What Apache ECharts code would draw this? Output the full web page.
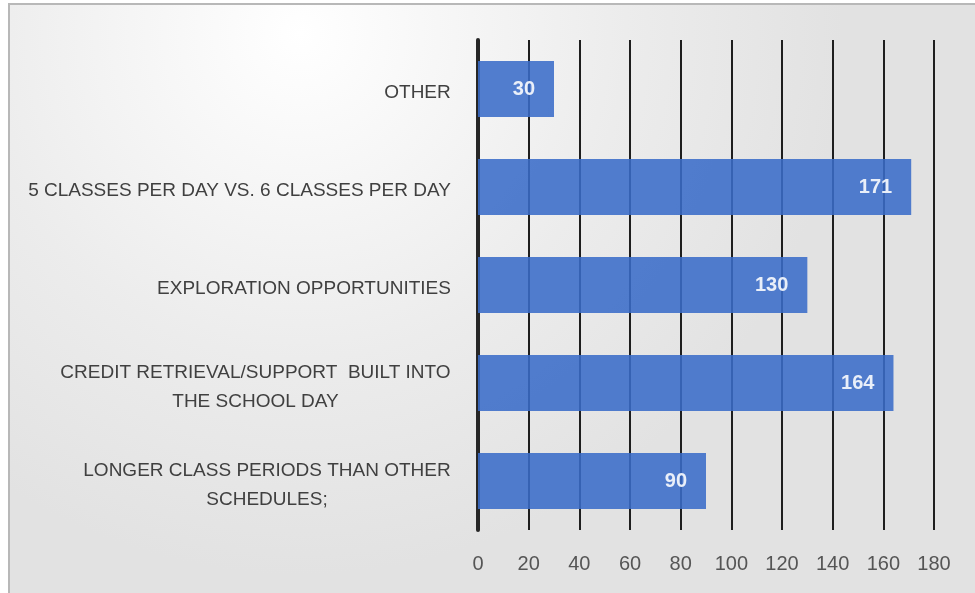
<!DOCTYPE html>
<html>
<head>
<meta charset="utf-8">
<script src="https://cdn.jsdelivr.net/npm/echarts@6/dist/echarts.min.js"></script>
<style>
html,body{margin:0;padding:0;background:#fff;}
#chart{width:975px;height:593px;}
</style>
</head>
<body>
<div id="chart"></div>
<script>
const categories = [
  'OTHER',
  '5 CLASSES PER DAY VS. 6 CLASSES PER DAY',
  'EXPLORATION OPPORTUNITIES',
  'CREDIT RETRIEVAL/SUPPORT  BUILT INTO\nTHE SCHOOL DAY',
  'LONGER CLASS PERIODS THAN OTHER\nSCHEDULES;'
];
const values = [30, 171, 130, 164, 90];
const xMin = 0, xMax = 180, xStep = 20;

const FONT = '"Liberation Sans", sans-serif';
const LABEL_SIZE = 19;

const cv = document.createElement('canvas').getContext('2d');
cv.font = LABEL_SIZE + 'px ' + FONT;
const rich = {};
categories.forEach((c, i) => {
  const w = Math.max(...c.split('\n').map(l => cv.measureText(l).width));
  rich['c' + i] = {width: Math.ceil(w) + 2, align: 'center', fontSize: LABEL_SIZE, fontFamily: FONT, color: '#404040', lineHeight: 29};
});

const chart = echarts.init(document.getElementById('chart'), null, {renderer: 'canvas'});
chart.setOption({
  animation: false,
  backgroundColor: '#ffffff',
  graphic: [{
    type: 'rect', z: -10, silent: true,
    shape: {x: 9, y: 4, width: 975, height: 600},
    style: {
      fill: {type: 'radial', x: 0.3, y: 0.05, r: 0.9, colorStops: [{offset: 0, color: '#ffffff'}, {offset: 0.6, color: '#ececec'}, {offset: 1, color: '#e2e2e2'}]},
      stroke: '#b8b8b8', lineWidth: 2
    }
  }],
  grid: {left: 478, right: 41, top: 40, bottom: 63, outerBoundsMode: 'none', containLabel: false},
  xAxis: {
    type: 'value', min: xMin, max: xMax, interval: xStep,
    axisLine: {show: false}, axisTick: {show: false},
    splitLine: {show: true, lineStyle: {color: '#1e1e1e', width: 2}},
    axisLabel: {margin: 24, fontSize: 20, fontFamily: FONT, color: '#555555'}
  },
  yAxis: {
    type: 'category', inverse: true, data: categories,
    axisLine: {show: true, lineStyle: {color: '#262626', width: 4}},
    axisTick: {show: false},
    splitLine: {show: false},
    axisLabel: {
      margin: 26,
      padding: [8, 0, 0, 0],
      formatter: (v, i) => v.split('\n').map(l => '{c' + i + '|' + l + '}').join('\n'),
      rich: rich
    }
  },
  series: [{
    type: 'bar', data: values, barWidth: '57%',
    itemStyle: {color: '#3a6cc8', opacity: 0.88},
    label: {show: true, position: 'insideRight', distance: 19, color: '#ffffff', fontWeight: 'bold', fontSize: 20, fontFamily: FONT}
  }]
});
</script>
</body>
</html>
